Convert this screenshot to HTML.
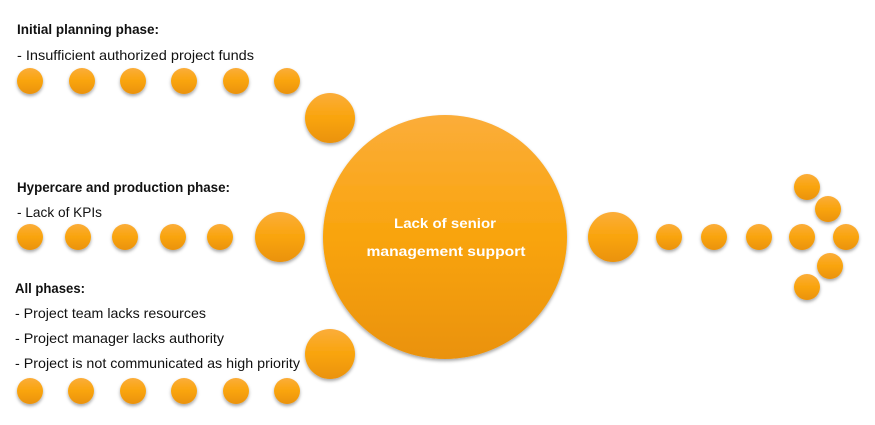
<!DOCTYPE html>
<html><head><meta charset="utf-8"><style>
html,body{margin:0;padding:0;background:#fff;}
svg text{font-family:"Liberation Sans",sans-serif;}
</style></head><body>
<svg width="875" height="420" viewBox="0 0 875 420" xmlns="http://www.w3.org/2000/svg">
<defs>
<linearGradient id="g" x1="0" y1="0" x2="0" y2="1">
<stop offset="0" stop-color="#fbad3a"/><stop offset="0.5" stop-color="#f9a40c"/><stop offset="1" stop-color="#ea9208"/>
</linearGradient>
<filter id="s" x="-30%" y="-30%" width="160%" height="170%"><feDropShadow dx="0" dy="2" stdDeviation="1.5" flood-color="#000" flood-opacity="0.35"/></filter>
</defs>
<g fill="url(#g)" filter="url(#s)">
<circle cx="30" cy="81" r="13"/><circle cx="82" cy="81" r="13"/><circle cx="133" cy="81" r="13"/><circle cx="184" cy="81" r="13"/><circle cx="236" cy="81" r="13"/><circle cx="287" cy="81" r="13"/>
<circle cx="330" cy="118" r="25"/>
<circle cx="30" cy="237" r="13"/><circle cx="78" cy="237" r="13"/><circle cx="125" cy="237" r="13"/><circle cx="173" cy="237" r="13"/><circle cx="220" cy="237" r="13"/>
<circle cx="280" cy="237" r="25"/>
<circle cx="30" cy="391" r="13"/><circle cx="81" cy="391" r="13"/><circle cx="133" cy="391" r="13"/><circle cx="184" cy="391" r="13"/><circle cx="236" cy="391" r="13"/><circle cx="287" cy="391" r="13"/>
<circle cx="330" cy="354" r="25"/>
<circle cx="445" cy="237" r="122"/>
<circle cx="613" cy="237" r="25"/>
<circle cx="669" cy="237" r="13"/><circle cx="714" cy="237" r="13"/><circle cx="759" cy="237" r="13"/><circle cx="802" cy="237" r="13"/><circle cx="846" cy="237" r="13"/>
<circle cx="807" cy="187" r="13"/><circle cx="828" cy="209" r="13"/><circle cx="830" cy="266" r="13"/><circle cx="807" cy="287" r="13"/>
</g>
<g font-size="14" fill="#111">
<text x="17" y="34" font-weight="bold" textLength="142" lengthAdjust="spacingAndGlyphs">Initial planning phase:</text>
<text x="17" y="60" textLength="237" lengthAdjust="spacingAndGlyphs">- Insufficient authorized project funds</text>
<text x="17" y="192" font-weight="bold" textLength="213" lengthAdjust="spacingAndGlyphs">Hypercare and production phase:</text>
<text x="17" y="217" textLength="85" lengthAdjust="spacingAndGlyphs">- Lack of KPIs</text>
<text x="15" y="293" font-weight="bold" textLength="70" lengthAdjust="spacingAndGlyphs">All phases:</text>
<text x="15" y="318" textLength="191" lengthAdjust="spacingAndGlyphs">- Project team lacks resources</text>
<text x="15" y="343" textLength="209" lengthAdjust="spacingAndGlyphs">- Project manager lacks authority</text>
<text x="15" y="368" textLength="285" lengthAdjust="spacingAndGlyphs">- Project is not communicated as high priority</text>
</g>
<g font-size="14" fill="#fff" font-weight="bold" text-anchor="middle">
<text x="445" y="228" textLength="102" lengthAdjust="spacingAndGlyphs">Lack of senior</text>
<text x="446" y="256" textLength="159" lengthAdjust="spacingAndGlyphs">management support</text>
</g>
</svg>
</body></html>
